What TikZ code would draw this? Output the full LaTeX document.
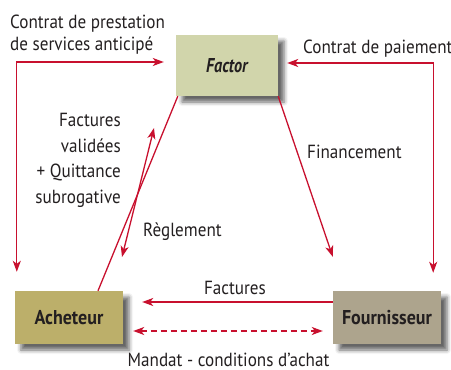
\documentclass[tikz,border=0pt]{standalone}
\usepackage{fontspec}
\setmainfont[FakeStretch=0.9]{PT Sans}
\newfontfamily\facfont[FakeStretch=0.81]{PT Sans}
\usetikzlibrary{arrows.meta,shadows.blur,calc}
\definecolor{arr}{RGB}{200,16,46}
\definecolor{txt}{RGB}{35,31,32}
\definecolor{facfill}{RGB}{209,213,171}
\definecolor{achfill}{RGB}{188,175,106}
\definecolor{foufill}{RGB}{173,164,141}
\begin{document}
\begin{tikzpicture}[x=1pt,y=-1pt,
  every node/.style={text=txt, inner sep=0pt},
  lbl/.style={font=\fontsize{19}{22}\selectfont},
  box/.style={font=\fontsize{20}{22}\selectfont\bfseries,
    blur shadow={shadow xshift=6pt, shadow yshift=-6pt, shadow blur radius=4pt, shadow opacity=60}},
  conn/.style={draw=arr, line width=1.3pt},
  >={Stealth[length=11pt,width=8pt,inset=3pt]}]
\useasboundingbox (0,0) rectangle (451,370);
\node[box, fill=facfill, minimum width=102pt, minimum height=61pt] (factor) at (227,65.5) {\facfont\bfseries\itshape Factor};
\node[box, fill=achfill, minimum width=108pt, minimum height=53pt] (ach) at (69,317.5) {Acheteur};
\node[box, fill=foufill, minimum width=108pt, minimum height=53pt] (four) at (387,317.5) {Fournisseur};
% labels
\node[lbl, anchor=base west, align=left] (l1) at (10,50) {Contrat de prestation\\de services anticipé};
\node[lbl, anchor=base west] (l2) at (303,53) {Contrat de paiement};
\node[lbl, anchor=base east, align=right, font=\fontsize{19}{25.5}\selectfont] (l3) at (121,203) {Factures\\validées\\+ Quittance\\subrogative};
\node[lbl, anchor=base west] (l4) at (143,236) {Règlement};
\node[lbl, anchor=base west] (l5) at (307,158) {Financement};
\node[lbl, anchor=base] (l6) at (235,294) {Factures};
\node[lbl, anchor=base] (l7) at (228.5,366) {Mandat - conditions d’achat};
% connectors
\draw[conn,<->,shorten <=19pt,shorten >=12pt] ($(ach.north west)+(2,0)$) |- ($(factor.west)+(0,-3.5)$);
\draw[conn,<->,shorten <=18pt,shorten >=9pt] ($(four.north east)+(-8,0)$) |- ($(factor.east)+(0,-2.5)$);
\draw[conn] ($(factor.south west)+(2,0)$) -- ($(ach.north)+(29,0)$);
\draw[conn,->] (factor.south east) -- ($(four.north west)+(0,-34)$);
\coordinate (rt) at (154,128);
\coordinate (rb) at (122,257);
\draw[conn,<->] (rb) -- (rt);
\draw[conn,->] ([yshift=15.5pt]four.west) -- ([xshift=19pt,yshift=15.5pt]ach.east);
\draw[conn,<->,dash pattern=on 6pt off 4pt] ([xshift=10pt,yshift=-13.5pt]ach.east) -- ([xshift=-10pt,yshift=-13.5pt]four.west);
\end{tikzpicture}
\end{document}
